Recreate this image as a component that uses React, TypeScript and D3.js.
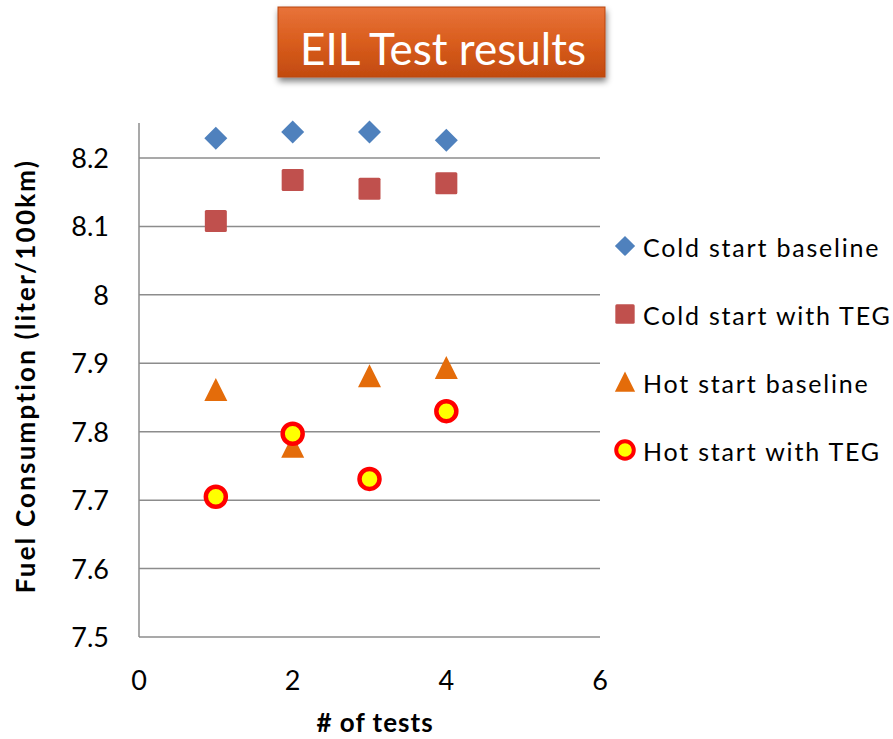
import React from "react";
import * as d3 from "d3";

const tests = [1, 2, 3, 4];
const coldBaseline = [8.229, 8.238, 8.238, 8.226];
const coldTEG = [8.108, 8.168, 8.155, 8.163];
const hotBaseline = [7.861, 7.778, 7.881, 7.893];
const hotTEG = [7.705, 7.797, 7.731, 7.830];
const yTicks = [7.5, 7.6, 7.7, 7.8, 7.9, 8, 8.1, 8.2];
const xTicks = [0, 2, 4, 6];
const seriesNames = ["Cold start baseline", "Cold start with TEG", "Hot start baseline", "Hot start with TEG"];

const W = 893, H = 739;
const FONT = "Lato, 'Open Sans', sans-serif";

function Marker({ kind, x, y, k = 1 }: { kind: number; x: number; y: number; k?: number }) {
  if (kind === 0) {
    const s = 11.5 * k;
    return <path d={`M${x},${y - s}L${x + s},${y}L${x},${y + s}L${x - s},${y}Z`} fill="#4f81bd" />;
  }
  if (kind === 1) {
    const h = 11 * k;
    return <rect x={x - h} y={y - h} width={2 * h} height={2 * h} rx={1.5} fill="#c0504d" />;
  }
  if (kind === 2) {
    return <path d={`M${x},${y - 12 * k}L${x + 11.5 * k},${y + 11 * k}L${x - 11.5 * k},${y + 11 * k}Z`} fill="#e46c0a" />;
  }
  return <circle cx={x} cy={y} r={10 * k} fill="#ffff00" stroke="#ff0000" strokeWidth={4.5 * k} />;
}

export default function App() {
  const x = d3.scaleLinear().domain([0, 6]).range([139, 600]);
  const y = d3.scaleLinear().domain([7.5, 8.2]).range([637, 158]);
  const yTop = y(8.251);
  const all = [coldBaseline, coldTEG, hotBaseline, hotTEG];
  const fmt = (v: number) => (v === 8 ? "8" : d3.format(".1f")(v));
  const legendY = [246, 314, 382, 450];
  return (
    <svg width={W} height={H} style={{ position: "absolute", left: 0, top: 0, background: "#fff" }}>
      <defs>
        <linearGradient id="tg" x1="0" y1="0" x2="0" y2="1">
          <stop offset="0" stopColor="#e8733a" />
          <stop offset="0.5" stopColor="#d95d1d" />
          <stop offset="1" stopColor="#c24a0f" />
        </linearGradient>
        <filter id="sh" x="-10%" y="-10%" width="130%" height="140%">
          <feGaussianBlur in="SourceAlpha" stdDeviation="3" />
          <feOffset dx="1" dy="4" />
          <feComponentTransfer><feFuncA type="linear" slope="0.5" /></feComponentTransfer>
          <feMerge><feMergeNode /><feMergeNode in="SourceGraphic" /></feMerge>
        </filter>
      </defs>
      <rect x={278} y={7} width={327} height={70} fill="url(#tg)" filter="url(#sh)" stroke="#b8470f" strokeWidth={1} />
      <text x={443} y={65} textAnchor="middle" fill="#fff" fontFamily={FONT} fontSize={44}>EIL Test results</text>

      {yTicks.map((t) => (
        <g key={t}>
          {t > 7.5 && <line x1={139} x2={600} y1={y(t)} y2={y(t)} stroke="#8c8c8c" strokeWidth={1.5} />}
          <text x={109} y={y(t) + 10} textAnchor="end" fontFamily={FONT} fontSize={27} fill="#000">{fmt(t)}</text>
        </g>
      ))}
      <line x1={139} x2={600} y1={y(7.5)} y2={y(7.5)} stroke="#8c8c8c" strokeWidth={1.5} />
      <line x1={139} x2={139} y1={yTop} y2={y(7.5)} stroke="#8c8c8c" strokeWidth={1.5} />
      {xTicks.map((t) => (
        <text key={t} x={x(t)} y={690} textAnchor="middle" fontFamily={FONT} fontSize={27} fill="#000">{t}</text>
      ))}
      <text x={375} y={732} textAnchor="middle" fontFamily={FONT} fontSize={26} fontWeight="bold" letterSpacing={1} fill="#000"># of tests</text>
      <text transform={`translate(35,${376}) rotate(-90)`} textAnchor="middle" fontFamily={FONT} fontSize={26} fontWeight="bold" letterSpacing={2.2} fill="#000">Fuel Consumption (liter/100km)</text>

      {all.map((s, si) =>
        s.map((v, i) => <Marker key={`${si}-${i}`} kind={si} x={x(tests[i])} y={y(v)} />)
      )}

      {seriesNames.map((n, i) => (
        <g key={n}>
          <Marker kind={i} x={625} y={legendY[i]} k={0.88} />
          <text x={643} y={legendY[i] + 11} fontFamily={FONT} fontSize={25} letterSpacing={1.8} fill="#000">{n}</text>
        </g>
      ))}
    </svg>
  );
}
